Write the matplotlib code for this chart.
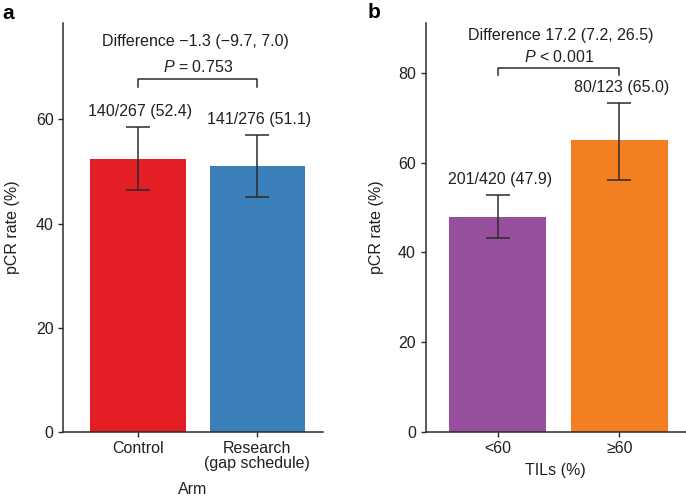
import matplotlib
matplotlib.use("Agg")
import matplotlib.pyplot as plt

plt.rcParams['font.family'] = ['Liberation Sans', 'DejaVu Sans']
plt.rcParams['mathtext.fontset'] = 'custom'
plt.rcParams['mathtext.it'] = 'Liberation Sans:italic'
plt.rcParams['mathtext.rm'] = 'Liberation Sans'

TXT = '#231F20'

# Panel a data
arm_labels = ['Control', 'Research\n(gap schedule)']
arm_rates = [52.4, 51.1]
arm_lower = [46.4, 45.2]
arm_upper = [58.6, 57.1]
arm_counts = ['140/267 (52.4)', '141/276 (51.1)']
arm_colors = ['#E31E24', '#3A7EBA']
arm_diff = 'Difference \u22121.3 (\u22129.7, 7.0)'
arm_p = '$P$ = 0.753'

# Panel b data
til_labels = ['<60', '\u226560']
til_rates = [47.9, 65.0]
til_lower = [43.1, 56.2]
til_upper = [52.8, 73.4]
til_counts = ['201/420 (47.9)', '80/123 (65.0)']
til_colors = ['#954F9C', '#F47F20']
til_diff = 'Difference 17.2 (7.2, 26.5)'
til_p = '$P$ < 0.001'

FS = 11.5

fig = plt.figure(figsize=(6.86, 4.98), dpi=100)
axa = fig.add_axes([0.0923, 0.1331, 0.3781, 0.8213])
axb = fig.add_axes([0.6205, 0.1331, 0.3795, 0.8213])


def panel(ax, labels, rates, lower, upper, counts, colors, diff, ptxt,
          ylim, yticks, xlim, xlabel, brk_y, brk_drop, p_y, diff_y, ylabelpad,
          xlabelpad, diff_dx):
    x = list(range(len(rates)))
    yerr = [[r - l for r, l in zip(rates, lower)], [u - r for r, u in zip(rates, upper)]]
    ax.bar(x, rates, width=0.8, color=colors, edgecolor='none', zorder=1)
    ax.errorbar(x, rates, yerr=yerr, fmt='none', ecolor='#2b2b2b', elinewidth=1.1,
                capsize=8.9, capthick=1.1, zorder=2)
    for xi, u, c in zip(x, upper, counts):
        ax.annotate(c, (xi, u), xytext=(1.5, 11), textcoords='offset points',
                    ha='center', va='center', fontsize=FS, color=TXT)
    ax.plot([x[0], x[0], x[1], x[1]], [brk_y - brk_drop, brk_y, brk_y, brk_y - brk_drop],
            color='#2b2b2b', lw=1.1, clip_on=False)
    ax.text((x[0] + x[1]) / 2, p_y, ptxt, ha='center', va='center', fontsize=FS, color=TXT)
    ax.text((x[0] + x[1]) / 2 + diff_dx, diff_y, diff, ha='center', va='center', fontsize=FS, color=TXT)
    ax.set_xlim(*xlim)
    ax.set_ylim(*ylim)
    ax.set_yticks(yticks)
    ax.set_xticks(x)
    ax.set_xticklabels(labels, fontsize=FS, color=TXT, linespacing=1.05)
    ax.tick_params(axis='y', labelsize=FS, labelcolor=TXT, length=3.5, width=1, color='#2b2b2b', pad=3.5)
    ax.tick_params(axis='x', length=3.5, width=1, color='#2b2b2b', pad=3)
    for s in ['top', 'right']:
        ax.spines[s].set_visible(False)
    for s in ['left', 'bottom']:
        ax.spines[s].set_linewidth(1.1)
        ax.spines[s].set_color('#2b2b2b')
    ax.set_ylabel('pCR rate (%)', fontsize=FS, color=TXT, labelpad=ylabelpad)
    ax.set_xlabel(xlabel, fontsize=FS, color=TXT, labelpad=xlabelpad)


panel(axa, arm_labels, arm_rates, arm_lower, arm_upper, arm_counts, arm_colors,
      arm_diff, arm_p, (0, 78.6), [0, 20, 40, 60], (-0.625, 1.547), 'Arm',
      67.8, 1.6, 70.0, 75.0, 11, 8, -0.02)
panel(axb, til_labels, til_rates, til_lower, til_upper, til_counts, til_colors,
      til_diff, til_p, (0, 91.2), [0, 20, 40, 60, 80], (-0.596, 1.55), 'TILs (%)',
      81.2, 1.6, 83.5, 88.4, 10, 5, 0.02)

fig.text(0.004, 0.972, 'a', fontsize=15, fontweight='bold', ha='left', va='center', color='#000000')
fig.text(0.536, 0.975, 'b', fontsize=15, fontweight='bold', ha='left', va='center', color='#000000')

fig.savefig('out.png', dpi=100)
